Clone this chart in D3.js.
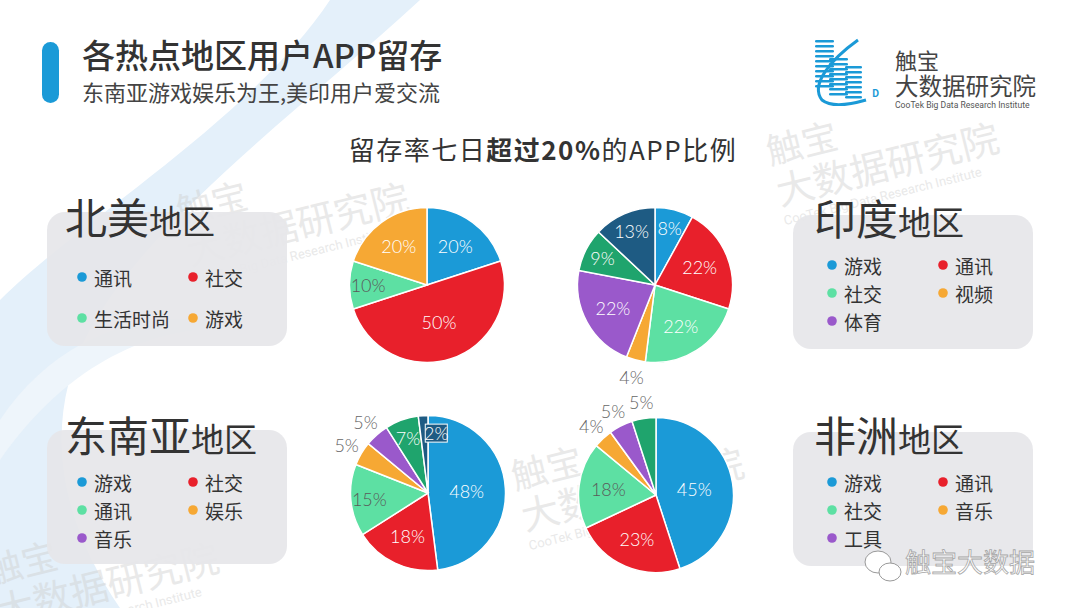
<!DOCTYPE html>
<html>
  <head>
    <meta charset="utf-8">
    <script src="https://d3js.org/d3.v7.min.js"></script>
    <style>
      body { margin: 0; background: #fff; }
      svg { display: block; font-family: "Noto Sans CJK SC", "Noto Sans", sans-serif; }
      .pct { font-family: Lato, "DejaVu Sans", sans-serif; font-weight: 300; font-size: 18px; }
      .leg { font-size: 19px; fill: #333; }
      .wm { fill: #cfcfcf; opacity: 0.45; }
    </style>
  </head>
  <body>
    <script>
      // slice colours, same order in every pie
      var colors = ["#1b9ad7", "#e8202b", "#5de0a3", "#f6a834", "#9a59cb", "#1fa46d", "#1e5b83"];

      // North America
      var naLegend = ["通讯", "社交", "生活时尚", "游戏"];
      var naValues = [20, 50, 10, 20];
      // India (last two slices have no legend entry)
      var inLegend = ["游戏", "通讯", "社交", "视频", "体育"];
      var inValues = [8, 22, 22, 4, 22, 9, 13];
      // South-East Asia
      var seaLegend = ["游戏", "社交", "通讯", "娱乐", "音乐"];
      var seaValues = [48, 18, 15, 5, 5, 7, 2];
      // Africa
      var afLegend = ["游戏", "通讯", "社交", "音乐", "工具"];
      var afValues = [45, 23, 18, 4, 5, 5];

      var W = 1080, H = 608;
      var svg = d3.select("body").append("svg")
        .attr("width", W)
        .attr("height", H);

      // background swoosh
      svg.append("path")
        .attr("d", "M330,0 C250,120 80,220 0,300 L0,608 L120,608 C60,520 40,420 90,330 C150,220 300,110 420,0 Z")
        .attr("fill", "#e4f0fa");
      svg.append("path")
        .attr("d", "M0,420 C60,330 160,300 250,330 C160,320 70,360 0,460 Z")
        .attr("fill", "#eef5fb");

      // watermarks
      function watermark(x, y) {
        var g = svg.append("g")
          .attr("transform", "translate(" + x + "," + y + ") rotate(-14)");
        g.append("text").attr("class", "wm").attr("x", 0).attr("y", 0)
          .style("font-size", "36px").text("触宝");
        g.append("text").attr("class", "wm").attr("x", 0).attr("y", 42)
          .style("font-size", "38px").text("大数据研究院");
        g.append("text").attr("class", "wm").attr("x", 0).attr("y", 62)
          .style("font-size", "13px").style("font-family", "Roboto, sans-serif")
          .text("CooTek Big Data Research Institute");
      }
      watermark(180, 225);
      watermark(770, 165);
      watermark(515, 490);
      watermark(-10, 585);

      // header
      svg.append("rect")
        .attr("x", 42).attr("y", 42)
        .attr("width", 17).attr("height", 61)
        .attr("rx", 8.5)
        .attr("fill", "#1b9ad7");
      svg.append("text")
        .attr("x", 82).attr("y", 68)
        .style("font-size", "33px").style("font-weight", 500)
        .attr("fill", "#333")
        .text("各热点地区用户APP留存");
      svg.append("text")
        .attr("x", 82).attr("y", 101)
        .style("font-size", "22px")
        .attr("fill", "#444")
        .text("东南亚游戏娱乐为王,美印用户爱交流");

      // logo
      var logo = svg.append("g");
      var stripeCols = [[815, 40, 90, 19], [829, 58, 97, 19], [845, 66, 97, 17]];
      stripeCols.forEach(function(c) {
        d3.range(c[1], c[2], 5).forEach(function(yy) {
          logo.append("rect")
            .attr("x", c[0]).attr("y", yy)
            .attr("width", c[3]).attr("height", 2.6)
            .attr("rx", 1.3)
            .attr("fill", "#1b9ad7");
        });
      });
      logo.append("path")
        .attr("d", "M858,40 C830,60 810,85 822,100 C832,108 852,104 866,100")
        .attr("fill", "none").attr("stroke", "#1b9ad7").attr("stroke-width", 3);
      logo.append("text").attr("x", 872).attr("y", 97)
        .style("font-size", "10px").style("font-weight", 700)
        .attr("fill", "#1b9ad7").text("D");
      logo.append("text").attr("x", 895).attr("y", 69)
        .style("font-size", "22px").attr("fill", "#444").text("触宝");
      logo.append("text").attr("x", 895).attr("y", 95)
        .style("font-size", "23.5px").attr("fill", "#444").text("大数据研究院");
      logo.append("text").attr("x", 895).attr("y", 108)
        .style("font-size", "8.6px").style("font-family", "Roboto, sans-serif")
        .attr("fill", "#555").text("CooTek Big Data Research Institute");

      // chart title
      var ct = svg.append("text")
        .attr("x", 543).attr("y", 160)
        .attr("text-anchor", "middle")
        .style("font-size", "26px").style("font-weight", 400)
        .style("letter-spacing", "1.5px")
        .attr("fill", "#333");
      ct.append("tspan").text("留存率七日");
      ct.append("tspan").style("font-weight", 700).text("超过20%");
      ct.append("tspan").text("的APP比例");

      // regions: legend boxes and pies
      var regions = [
        { title: "北美", legend: naLegend, values: naValues, bx: 47, by: 212, tx: 65, ty: 234, dx: [82, 193], rows: [277, 318], pcx: 427, pcy: 285 },
        { title: "印度", legend: inLegend, values: inValues, bx: 793, by: 215, tx: 814, ty: 235, dx: [832, 943], rows: [265, 293, 321], pcx: 655, pcy: 285 },
        { title: "东南亚", legend: seaLegend, values: seaValues, bx: 47, by: 430, tx: 65, ty: 452, dx: [82, 193], rows: [482, 510, 538], pcx: 428, pcy: 493 },
        { title: "非洲", legend: afLegend, values: afValues, bx: 793, by: 432, tx: 814, ty: 452, dx: [832, 943], rows: [482, 510, 538], pcx: 656, pcy: 495 }
      ];

      var r = 77.5;
      var pie = d3.pie().sort(null).value(function(d) { return d; });
      var arc = d3.arc().innerRadius(0).outerRadius(r);

      regions.forEach(function(reg) {
        // box
        svg.append("rect")
          .attr("x", reg.bx).attr("y", reg.by)
          .attr("width", 240).attr("height", 134)
          .attr("rx", 18)
          .attr("fill", "#e6e6e9")
          .attr("opacity", 0.92);

        var t = svg.append("text")
          .attr("x", reg.tx).attr("y", reg.ty)
          .attr("fill", "#333");
        t.append("tspan").style("font-size", "42px").text(reg.title);
        t.append("tspan").style("font-size", "33px").text("地区");

        // legend
        reg.legend.forEach(function(name, i) {
          var col = i % 2, row = Math.floor(i / 2);
          var lx = reg.dx[col], ly = reg.rows[row];
          svg.append("circle")
            .attr("cx", lx).attr("cy", ly).attr("r", 4.8)
            .attr("fill", colors[i]);
          svg.append("text")
            .attr("class", "leg")
            .attr("x", lx + 12).attr("y", ly)
            .attr("dominant-baseline", "central")
            .text(name);
        });

        // pie
        var g = svg.append("g")
          .attr("transform", "translate(" + reg.pcx + "," + reg.pcy + ")");
        var arcs = pie(reg.values);
        g.selectAll("path")
          .data(arcs)
          .enter().append("path")
          .attr("d", arc)
          .attr("fill", function(d, i) { return colors[i]; })
          .attr("stroke", "#fff")
          .attr("stroke-width", 1.5);

        arcs.forEach(function(d, i) {
          var v = d.data;
          var mid = (d.startAngle + d.endAngle) / 2;
          var k, fill = "#fff";
          if (v < 3) { k = 0.78; mid += 0.2; }
          else if (v < 6) { k = 1.22; fill = "#666"; }
          else if (v <= 15) k = 0.76;
          else if (v >= 40) k = 0.5;
          else k = 0.62;
          if (i === 2 && reg.title !== "印度") fill = "#5a5a5a";
          var px = Math.sin(mid) * r * k, py = -Math.cos(mid) * r * k;
          if (v < 3) {
            g.append("rect")
              .attr("x", px - 11).attr("y", py - 9)
              .attr("width", 22).attr("height", 18)
              .attr("fill", colors[i])
              .attr("stroke", "#fff").attr("stroke-width", 1);
          }
          g.append("text")
            .attr("class", "pct")
            .attr("x", px).attr("y", py)
            .attr("text-anchor", "middle")
            .attr("dominant-baseline", "central")
            .attr("fill", fill)
            .text(v + "%");
        });
      });

      // wechat mark
      svg.append("text")
        .attr("x", 905).attr("y", 572)
        .style("font-size", "26px")
        .attr("fill", "#fff")
        .attr("stroke", "#999").attr("stroke-width", 0.8)
        .attr("opacity", 0.85)
        .text("触宝大数据");
      svg.append("ellipse")
        .attr("cx", 878).attr("cy", 562).attr("rx", 13).attr("ry", 11)
        .attr("fill", "#fff").attr("stroke", "#999").attr("stroke-width", 1);
      svg.append("ellipse")
        .attr("cx", 890).attr("cy", 572).attr("rx", 11).attr("ry", 9)
        .attr("fill", "#fff").attr("stroke", "#999").attr("stroke-width", 1);
    </script>
  </body>
</html>
